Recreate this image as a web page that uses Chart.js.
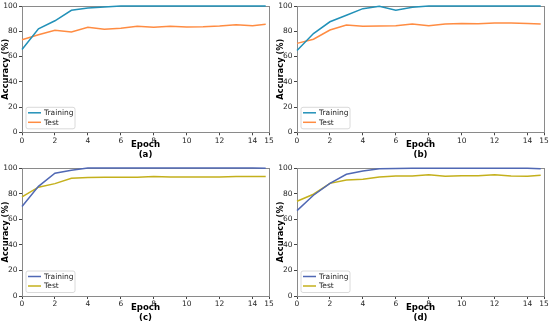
<!DOCTYPE html>
<html>
<head>
<meta charset="utf-8">
<script src="https://cdn.jsdelivr.net/npm/chart.js@4.4.1/dist/chart.umd.min.js"></script>
<style>
  html, body { margin: 0; padding: 0; background: #fff; }
  #wrap { position: relative; width: 550px; height: 324px; }
  canvas { position: absolute; }
</style>
</head>
<body>
<div id="wrap">
  <canvas id="pa" width="275" height="162" style="left:0;top:0"></canvas>
  <canvas id="pb" width="275" height="162" style="left:275px;top:0"></canvas>
  <canvas id="pc" width="275" height="162" style="left:0;top:162px"></canvas>
  <canvas id="pd" width="275" height="162" style="left:275px;top:162px"></canvas>
</div>
<script>
const epochs = [0, 1, 2, 3, 4, 5, 6, 7, 8, 9, 10, 11, 12, 13, 14, 14.8];
const xTicks = [0, 2, 4, 6, 8, 10, 12, 14, 15];
const yTicks = [0, 20, 40, 60, 80, 100];
const seriesNames = ["Training", "Test"];
const panelLabels = ["(a)", "(b)", "(c)", "(d)"];

const trainA = [65.5, 82, 88.3, 96.6, 98.4, 99.3, 100, 100, 100, 100, 100, 100, 100, 100, 100, 100];
const testA = [73.3, 77.2, 80.8, 79.5, 83.1, 81.5, 82.3, 83.9, 83.1, 83.9, 83.4, 83.6, 84.2, 85.2, 84.4, 85.5];

const trainB = [64.7, 78.2, 87.5, 92.7, 97.9, 99.8, 96.6, 99, 100, 100, 100, 100, 100, 100, 100, 100];
const testB = [70.4, 73.7, 81, 84.9, 83.9, 84.2, 84.4, 85.7, 84.4, 85.7, 86.2, 86, 86.5, 86.5, 86.2, 85.7];

const trainC = [69.9, 85.7, 95.9, 98.2, 100, 100, 100, 100, 100, 100, 100, 100, 100, 100, 100, 99.9];
const testC = [77.4, 85, 87.8, 92, 92.5, 92.7, 92.7, 92.7, 93.3, 93, 93, 93, 93, 93.3, 93.3, 93.3];

const trainD = [66.7, 78.7, 88, 95.1, 97.7, 99.5, 99.7, 99.8, 99.8, 99.8, 99.8, 99.8, 99.8, 99.8, 99.8, 99.5];
const testD = [74, 79.5, 88, 90.6, 91.2, 93, 93.8, 93.8, 94.8, 93.5, 94, 94, 94.8, 93.8, 93.5, 94.3];

const FONT = "'DejaVu Sans', sans-serif";
const TEXT = "#262626";

// matplotlib-style full frame around the plot area, under the lines
const frame = {
  id: "frame",
  beforeDatasetsDraw(chart) {
    const { ctx, chartArea: a } = chart;
    ctx.save();
    ctx.strokeStyle = "#8a8a8a";
    ctx.lineWidth = 1;
    ctx.strokeRect(Math.round(a.left) + 0.5, Math.round(a.top) + 0.5,
      Math.round(a.right - a.left), Math.round(a.bottom - a.top));
    ctx.restore();
  }
};

// legend box in the lower left corner, inside the axes
const insideLegend = {
  id: "insideLegend",
  afterDraw(chart) {
    const { ctx, chartArea: a } = chart;
    const x = a.left + 4;
    const w = 49;
    const h = 21.5;
    const y = a.bottom - 3.5 - h;
    ctx.save();
    ctx.fillStyle = "rgba(255,255,255,0.85)";
    ctx.strokeStyle = "#d0d0d0";
    ctx.lineWidth = 0.8;
    ctx.beginPath();
    ctx.roundRect(x, y, w, h, 2);
    ctx.fill();
    ctx.stroke();
    ctx.font = "7.5px " + FONT;
    ctx.textBaseline = "middle";
    ctx.fillStyle = TEXT;
    chart.data.datasets.forEach((ds, i) => {
      const ly = y + 5.5 + i * 9.5;
      ctx.strokeStyle = ds.borderColor;
      ctx.lineWidth = 1.5;
      ctx.beginPath();
      ctx.moveTo(x + 2, ly);
      ctx.lineTo(x + 15, ly);
      ctx.stroke();
      ctx.fillText(ds.label, x + 18, ly + 0.5);
    });
    ctx.restore();
  }
};

function toPoints(values) {
  return values.map((v, i) => ({ x: epochs[i], y: v }));
}

function makeChart(id, label, train, test, colors, topPad, xHeight, titlePad) {
  return new Chart(document.getElementById(id), {
    type: "line",
    data: {
      datasets: [
        { label: seriesNames[0], data: toPoints(train), borderColor: colors[0], borderWidth: 1.5, pointRadius: 0, tension: 0, clip: 3 },
        { label: seriesNames[1], data: toPoints(test), borderColor: colors[1], borderWidth: 1.5, pointRadius: 0, tension: 0, clip: 3 }
      ]
    },
    options: {
      responsive: false,
      animation: false,
      layout: { padding: { top: topPad, right: 6, left: 0, bottom: 0 } },
      plugins: { legend: { display: false }, tooltip: { enabled: false } },
      scales: {
        x: {
          type: "linear",
          min: 0,
          max: 15,
          afterBuildTicks: (s) => { s.ticks = xTicks.map((v) => ({ value: v })); },
          afterFit: (s) => { s.height = xHeight; },
          grid: { drawOnChartArea: false, drawTicks: true, tickLength: 3, tickColor: "#444" },
          border: { display: false },
          ticks: { color: TEXT, font: { family: FONT, size: 7.5 }, padding: 1, maxRotation: 0, autoSkip: false },
          title: {
            display: true,
            text: ["Epoch", label],
            color: "#000",
            font: { family: FONT, size: 8.6, weight: "bold", lineHeight: 1.12 },
            padding: { top: 0, bottom: titlePad }
          }
        },
        y: {
          min: 0,
          max: 100,
          afterBuildTicks: (s) => { s.ticks = yTicks.map((v) => ({ value: v })); },
          afterFit: (s) => { s.width = 22; },
          grid: { drawOnChartArea: false, drawTicks: true, tickLength: 3, tickColor: "#444" },
          border: { display: false },
          ticks: { color: TEXT, font: { family: FONT, size: 7.5 }, padding: 1.5 },
          title: {
            display: true,
            text: "Accuracy (%)",
            color: "#000",
            font: { family: FONT, size: 8.3, weight: "bold", lineHeight: 1.15 },
            padding: { top: 1, bottom: 0 }
          }
        }
      }
    },
    plugins: [frame, insideLegend]
  });
}

const topColors = ["#2291b8", "#ff8c42"];
const bottomColors = ["#5068b4", "#c4b01c"];

makeChart("pa", panelLabels[0], trainA, testA, topColors, 4, 29.7, 2.7);
makeChart("pb", panelLabels[1], trainB, testB, topColors, 4, 29.7, 2.7);
makeChart("pc", panelLabels[2], trainC, testC, bottomColors, 5.7, 28, 1.5);
makeChart("pd", panelLabels[3], trainD, testD, bottomColors, 5.7, 28, 1.5);
</script>
</body>
</html>
